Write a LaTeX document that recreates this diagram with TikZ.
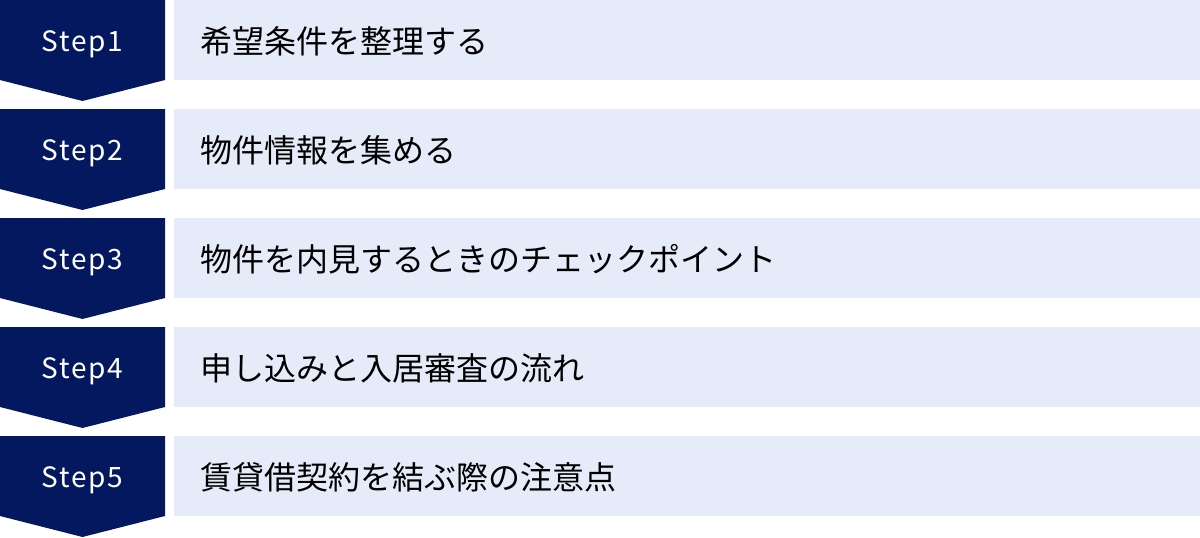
\documentclass[tikz,border=0pt]{standalone}
\usepackage{fontspec}
\setmainfont{Noto Sans CJK JP}
\definecolor{navy}{HTML}{04185F}
\definecolor{pale}{HTML}{E5EBF8}
\begin{document}
\begin{tikzpicture}[x=1pt, y=-1pt,
   steptag/.style={text=white, font=\fontsize{28}{32}\selectfont\addfontfeatures{LetterSpace=6}},
   stepbody/.style={anchor=west, text=black, font=\fontsize{32}{36}\selectfont, inner sep=0pt}]
   \useasboundingbox (0,0) rectangle (1200,538);
   \foreach \t [count=\i] in {希望条件を整理する, 物件情報を集める,
      物件を内見するときのチェックポイント, 申し込みと入居審査の流れ,
      賃貸借契約を結ぶ際の注意点} {
     \pgfmathsetmacro{\top}{(\i-1)*109}
     \fill[navy] (0,\top) -- (165,\top) -- ++(0,80) -- ++(-82.5,21) -- (0,\top+80) -- cycle;
     \fill[pale] (174,\top) rectangle (1200,\top+80);
     \node[steptag] (step\i) at (82.5,\top+44) {Step\i};
     \node[stepbody] (label\i) at (200,\top+41) {\t};
   }
\end{tikzpicture}
\end{document}
